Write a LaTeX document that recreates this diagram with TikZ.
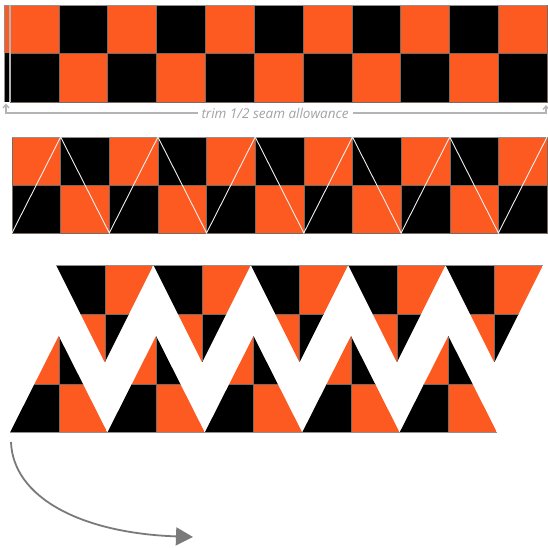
\documentclass[tikz,border=0pt]{standalone}
\usepackage{fontspec}
\newfontfamily\labelfont{Open Sans}
\usetikzlibrary{arrows.meta}
\definecolor{qorange}{HTML}{FD5A22}
\definecolor{seamgray}{HTML}{B4B4B4}
\definecolor{arrowgray}{HTML}{7A7A7A}
\definecolor{edgegray}{HTML}{7A6A62}
\tikzset{
  celledge/.style={draw=edgegray, line width=0.4pt},
  seamline/.style={draw=seamgray, line width=1.3pt},
  zigline/.style={draw=white!88!gray, line width=0.9pt, line join=miter},
  rimline/.style={draw=seamgray!80!black, line width=0.6pt},
}
\begin{document}
\begin{tikzpicture}[x=1pt,y=-1pt]
\useasboundingbox (0,0) rectangle (548,548);

% ---------- top strip ----------
\fill[qorange] (4,5) rectangle (10,53.5);
\fill[black] (4,53.5) rectangle (10,102);
\foreach \i in {0,...,10} {
  \pgfmathsetmacro\xa{10+48.82*\i}
  \pgfmathsetmacro\xb{10+48.82*(\i+1)}
  \ifodd\i \def\ct{black}\def\cb{qorange}\else\def\ct{qorange}\def\cb{black}\fi
  \fill[\ct] (\xa,5) rectangle (\xb,53.5);
  \fill[\cb] (\xa,53.5) rectangle (\xb,102);
  \draw[celledge] (\xa,5) rectangle (\xb,102);
  \draw[celledge] (\xa,53.5) -- (\xb,53.5);
}
\draw[rimline] (4,5) -- (547,5);
\draw[rimline] (4,5) -- (4,102);
\draw[seamline] (10,5) -- (10,102);

% ---------- trim label ----------
\node[font=\labelfont\itshape\fontsize{13.5}{15}\selectfont, text=seamgray!90!black, inner sep=0pt] (trim) at (275,113) {trim 1/2 seam allowance};
\coordinate (lcorner) at (6,113);
\coordinate (ltip) at (6,103.5);
\coordinate (rend) at (546,113);
\coordinate (rtip) at (546,105);
\draw[seamline, -{Straight Barb[length=3.5pt,width=6pt]}] (trim.west) ++(-3,0) -- (lcorner) -- (ltip);
\draw[seamline, -{Straight Barb[length=3.5pt,width=6pt]}] (trim.east) ++(4,0) -- (rend) -- (rtip);

% ---------- second strip ----------
\foreach \i in {0,...,10} {
  \pgfmathsetmacro\xa{12+48.64*\i}
  \pgfmathsetmacro\xb{12+48.64*(\i+1)}
  \ifodd\i \def\ct{black}\def\cb{qorange}\else\def\ct{qorange}\def\cb{black}\fi
  \fill[\ct] (\xa,137) rectangle (\xb,185);
  \fill[\cb] (\xa,185) rectangle (\xb,233);
  \draw[celledge] (\xa,137) rectangle (\xb,233);
  \draw[celledge] (\xa,185) -- (\xb,185);
}
\draw[rimline] (12,137) -- (547,137);
\draw[zigline] (12,233) \foreach \i in {1,...,11} { -- ({12+48.64*\i},{185+48*cos(180*\i)}) };

% ---------- inverted triangles (upper row) ----------
\foreach \k in {0,...,4} {
  \pgfmathsetmacro\a{56+97.4*\k}
  \begin{scope}
    \clip (\a,265) -- (\a+97.4,265) -- (\a+48.7,362.4) -- cycle;
    \fill[black] (\a,265) rectangle (\a+48.7,313.7);
    \fill[qorange] (\a+48.7,265) rectangle (\a+97.4,313.7);
    \fill[qorange] (\a,313.7) rectangle (\a+48.7,362.4);
    \fill[black] (\a+48.7,313.7) rectangle (\a+97.4,362.4);
    \draw[celledge] (\a+48.7,265) -- (\a+48.7,362.4);
    \draw[celledge] (\a,313.7) -- (\a+97.4,313.7);
  \end{scope}
}
\draw[rimline] (56,265) -- (543,265);

% ---------- upright triangles (lower row) ----------
\foreach \k in {0,...,4} {
  \pgfmathsetmacro\b{10+97.4*\k}
  \begin{scope}
    \clip (\b,432.5) -- (\b+97.4,432.5) -- (\b+48.7,336) -- cycle;
    \fill[qorange] (\b,336) rectangle (\b+48.7,384.3);
    \fill[black] (\b+48.7,336) rectangle (\b+97.4,384.3);
    \fill[black] (\b,384.3) rectangle (\b+48.7,432.5);
    \fill[qorange] (\b+48.7,384.3) rectangle (\b+97.4,432.5);
    \draw[celledge] (\b+48.7,336) -- (\b+48.7,432.5);
    \draw[celledge] (\b,384.3) -- (\b+97.4,384.3);
  \end{scope}
}
\draw[rimline] (10,432.5) -- (497,432.5);

% ---------- curved arrow ----------
\coordinate (astart) at (11,442);
\coordinate (aend) at (193,537);
\draw[arrowgray, line width=1.8pt, -{Triangle[length=17pt,width=18pt]}]
  (astart) .. controls (13,497) and (80,533) .. (aend);
\end{tikzpicture}
\end{document}
